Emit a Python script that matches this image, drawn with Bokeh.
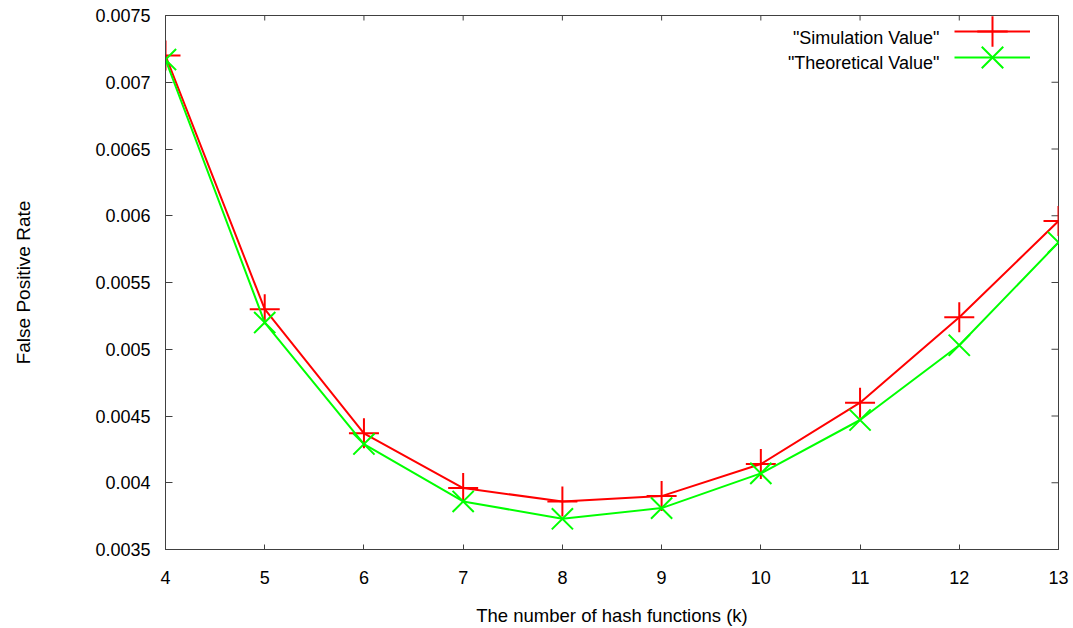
import math
from bokeh.plotting import figure
from bokeh.models import (Range1d, LinearAxis, FixedTicker, CustomJSTickFormatter,
                          Legend, LegendItem, Label)
from bokeh.embed import file_html
from bokeh.resources import INLINE

# ---- data ----
k_values = [4, 5, 6, 7, 8, 9, 10, 11, 12, 13]
simulation = [0.00720, 0.00530, 0.00437, 0.00396, 0.00386, 0.00390, 0.00414, 0.00460, 0.00524, 0.00596]
theoretical = [0.00717, 0.00520, 0.00429, 0.00386, 0.00373, 0.00381, 0.00407, 0.00447, 0.00503, 0.00580]
x_ticks = [4, 5, 6, 7, 8, 9, 10, 11, 12, 13]
y_ticks = [0.0035, 0.004, 0.0045, 0.005, 0.0055, 0.006, 0.0065, 0.007, 0.0075]
series_names = ['"Simulation Value"', '"Theoretical Value"']
x_title = "The number of hash functions (k)"
y_title = "False Positive Rate"

FONT = "Liberation Sans"
AX = "#404040"
X_MIN, X_MAX = 4, 13
Y_MIN, Y_MAX = 0.0035, 0.0075

p = figure(width=1073, height=628, output_backend="svg", toolbar_location=None,
           x_range=Range1d(X_MIN, X_MAX), y_range=Range1d(Y_MIN, Y_MAX),
           x_axis_location=None, y_axis_location=None,
           min_border_left=165, min_border_right=15, min_border_top=15, min_border_bottom=78)
p.background_fill_color = "white"
p.border_fill_color = "white"
p.outline_line_color = AX
p.outline_line_width = 1
p.xgrid.visible = False
p.ygrid.visible = False

fmt = CustomJSTickFormatter(code="return String(parseFloat(tick.toFixed(6)));")

def style(ax, tick_len):
    ax.axis_line_color = AX
    ax.axis_line_width = 1
    ax.major_tick_line_color = AX
    ax.major_tick_in = tick_len
    ax.major_tick_out = 0
    ax.minor_tick_line_color = None
    ax.major_label_text_font = FONT
    ax.major_label_text_font_size = "18px"
    ax.major_label_text_color = "black"
    ax.major_label_text_line_height = 1.0
    ax.axis_label_text_font = FONT
    ax.axis_label_text_font_size = "18.5px"
    ax.axis_label_text_font_style = "normal"
    ax.axis_label_text_color = "black"
    ax.axis_label_text_line_height = 1.0

xb = LinearAxis(ticker=FixedTicker(ticks=x_ticks), axis_label=x_title)
style(xb, 5)
xb.major_label_standoff = 21
xb.axis_label_standoff = 18
p.add_layout(xb, "below")

yl = LinearAxis(ticker=FixedTicker(ticks=y_ticks), formatter=fmt, axis_label=y_title)
style(yl, 7)
yl.axis_label_text_font_size = "19px"
yl.major_label_standoff = 15
yl.axis_label_standoff = 58
p.add_layout(yl, "left")

# mirrored inward ticks on the top and right edges (gnuplot style)
p.ray(x=x_ticks, y=[Y_MAX] * len(x_ticks), length=5, length_units="screen",
      angle=-math.pi / 2, line_color=AX, line_width=1)
p.ray(x=[X_MAX] * len(y_ticks), y=y_ticks, length=7, length_units="screen",
      angle=math.pi, line_color=AX, line_width=1)

RED = "#ff0000"
GREEN = "#00ff00"

l_sim = p.line(k_values, simulation, line_color=RED, line_width=2)
s_sim = p.scatter(k_values, simulation, marker="cross", size=30, line_color=RED, line_width=2)
l_th = p.line(k_values, theoretical, line_color=GREEN, line_width=2)
s_th = p.scatter(k_values, theoretical, marker="x", size=30, line_color=GREEN, line_width=2)

for rends, loc in [([l_sim, s_sim], (789, 480)), ([l_th, s_th], (789, 454))]:
    lg = Legend(items=[LegendItem(label=" ", renderers=rends)],
                location=loc, orientation="vertical",
                glyph_width=76, glyph_height=76, spacing=0, padding=0, margin=0,
                label_standoff=0, label_width=0, label_height=0,
                border_line_color=None, background_fill_alpha=0)
    p.add_layout(lg)

for name, yv in zip(series_names, [0.007330, 0.007144]):
    p.add_layout(Label(x=11.80, y=yv, text=name, text_align="right", text_baseline="alphabetic",
                       text_font=FONT, text_font_size="18px", text_color="black"))

open("out.html", "w").write(file_html(p, INLINE))
